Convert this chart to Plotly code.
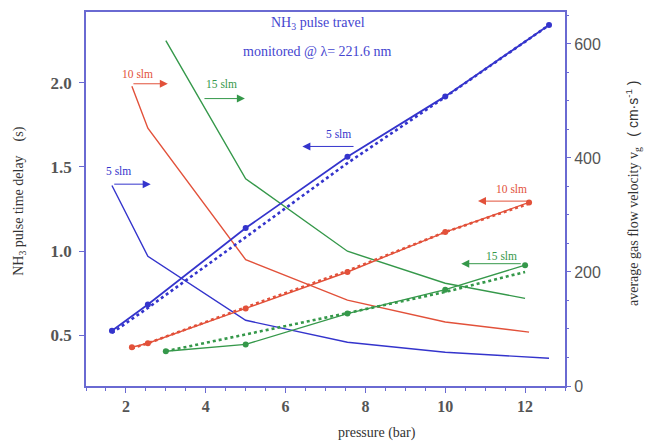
import plotly.graph_objects as go

# ---------------- data ----------------
p5 = [1.65, 2.55, 5.0, 7.55, 10.0, 12.6]
p10 = [2.15, 2.55, 5.0, 7.55, 10.0, 12.1]
p15 = [3.0, 5.0, 7.55, 10.0, 12.0]

delay5 = [1.39, 0.97, 0.59, 0.46, 0.40, 0.365]
delay10 = [1.98, 1.73, 0.95, 0.71, 0.58, 0.52]
delay15 = [2.25, 1.43, 1.00, 0.81, 0.72]

vel5 = [97, 143, 277, 402, 508, 633]
vel10 = [68, 75, 136, 200, 270, 322]
vel15 = [61, 73, 127, 169, 212]

fit5 = [93, 137, 261, 391, 507, 633]
fit10 = [66, 75, 138, 202, 270, 320]
fit15 = [61, 90, 128, 165, 200]

x_ticks = [2, 4, 6, 8, 10, 12]
left_ticks = [0.5, 1.0, 1.5, 2.0]
right_ticks = [0, 200, 400, 600]

BLUE = "#3434cc"
RED = "#e2513a"
GREEN = "#35984a"
FRAME = "#6a6ad2"
TICKC = "#555555"
SERIF = "Liberation Serif, DejaVu Serif, Times New Roman, serif"
SANS = "Liberation Sans, Arial, sans-serif"

fig = go.Figure()

# delay curves (left axis)
for xs, ys, c in [(p5, delay5, BLUE), (p10, delay10, RED), (p15, delay15, GREEN)]:
    fig.add_trace(go.Scatter(x=xs, y=ys, mode="lines", line=dict(color=c, width=1.4),
                             yaxis="y", showlegend=False, hoverinfo="skip"))

# fit (dotted) lines, right axis
for xs, ys, c in [(p5, fit5, BLUE), (p10, fit10, RED), (p15, fit15, GREEN)]:
    fig.add_trace(go.Scatter(x=xs, y=ys, mode="lines", line=dict(color=c, width=2.6, dash="dot"),
                             yaxis="y2", showlegend=False, hoverinfo="skip"))

# velocity curves with markers, right axis
for xs, ys, c, w in [(p5, vel5, BLUE, 1.8), (p10, vel10, RED, 1.4), (p15, vel15, GREEN, 1.4)]:
    fig.add_trace(go.Scatter(x=xs, y=ys, mode="lines+markers", line=dict(color=c, width=w),
                             marker=dict(color=c, size=6), yaxis="y2",
                             showlegend=False, hoverinfo="skip"))

annotations = []
# arrow labels: (text, color, text_x, text_y, tail_x, tail_y, head_x, head_y)
arrows = [
    ("5 slm", BLUE, 1.82, 1.475, 1.67, 1.398, 2.62, 1.398),
    ("10 slm", RED, 2.30, 2.053, 2.15, 1.994, 3.05, 1.994),
    ("15 slm", GREEN, 4.40, 1.994, 3.93, 1.906, 4.98, 1.906),
    ("5 slm", BLUE, 7.32, 1.693, 7.74, 1.622, 6.42, 1.622),
    ("10 slm", RED, 11.65, 1.368, 12.1, 1.2975, 10.82, 1.2975),
    ("15 slm", GREEN, 11.40, 0.973, 11.93, 0.926, 10.40, 0.926),
]
for t, c, tx, ty, ax, ay, hx, hy in arrows:
    annotations.append(dict(x=tx, y=ty, xref="x", yref="y", text=t, showarrow=False,
                            xanchor="center", yanchor="middle",
                            font=dict(family=SERIF, size=11.5, color=c)))
    annotations.append(dict(x=hx, y=hy, ax=ax, ay=ay, xref="x", yref="y", axref="x", ayref="y",
                            text="", showarrow=True, arrowhead=2, arrowsize=1.6,
                            arrowwidth=1, arrowcolor=c))

annotations += [
    dict(x=0.484, y=0.968, xref="paper", yref="paper", text="NH<sub>3</sub> pulse travel",
         xanchor="center", yanchor="middle",
         showarrow=False, font=dict(family=SERIF, size=14, color="#4545d0")),
    dict(x=0.484, y=0.894, xref="paper", yref="paper", text="monitored @ λ= 221.6 nm",
         xanchor="center", yanchor="middle",
         showarrow=False, font=dict(family=SERIF, size=14, color="#4545d0")),
    dict(x=0.607, y=-0.127, xref="paper", yref="paper", text="pressure (bar)",
         xanchor="center", yanchor="middle",
         showarrow=False, font=dict(family=SERIF, size=14, color="#333333")),
    dict(x=-0.138, y=0.495, xref="paper", yref="paper", textangle=-90,
         xanchor="center", yanchor="middle",
         text="NH<sub>3</sub> pulse time delay    (s)",
         showarrow=False, font=dict(family=SERIF, size=14, color="#333333")),
    dict(x=1.142, y=0.516, xref="paper", yref="paper", textangle=-90,
         xanchor="center", yanchor="middle",
         text="average gas flow velocity v<sub>g</sub>   "
              "<span style='font-family:Liberation Sans, Arial, sans-serif'>( cm·s<sup>-1</sup> )</span>",
         showarrow=False, font=dict(family=SERIF, size=14, color="#333333")),
]

fig.update_layout(
    width=654, height=445,
    margin=dict(l=86, r=89, t=10, b=59),
    paper_bgcolor="white", plot_bgcolor="white",
    annotations=annotations,
    xaxis=dict(range=[1.0, 13.0], tickvals=x_ticks, ticktext=[str(v) for v in x_ticks],
               showgrid=False, zeroline=False, showline=True, linecolor=FRAME, linewidth=1.5,
               mirror=True, ticks="outside", ticklen=5, tickcolor=FRAME,
               minor=dict(dtick=0.5, ticks="outside", ticklen=3, tickcolor=FRAME),
               tickfont=dict(family=SERIF, size=16, color=TICKC, weight="bold")),
    yaxis=dict(range=[0.2, 2.42], tickvals=left_ticks, ticktext=["%.1f" % v for v in left_ticks],
               showgrid=False, zeroline=False, showline=True, linecolor=FRAME, linewidth=1.5,
               mirror=True, ticks="outside", ticklen=5, tickcolor=FRAME,
               ticklabelstandoff=4,
               tickfont=dict(family=SERIF, size=17, color=TICKC, weight="bold")),
    yaxis2=dict(range=[0, 656], overlaying="y", side="right", tickvals=right_ticks,
                ticktext=[str(v) for v in right_ticks],
                showgrid=False, zeroline=False, showline=False,
                ticks="outside", ticklen=5, tickcolor=FRAME,
                minor=dict(dtick=50, ticks="outside", ticklen=3, tickcolor=FRAME),
                tickfont=dict(family=SANS, size=16, color=TICKC)),
)

fig.write_html("out.html", config={"displayModeBar": False},
               post_script="document.body.style.margin='0';")
